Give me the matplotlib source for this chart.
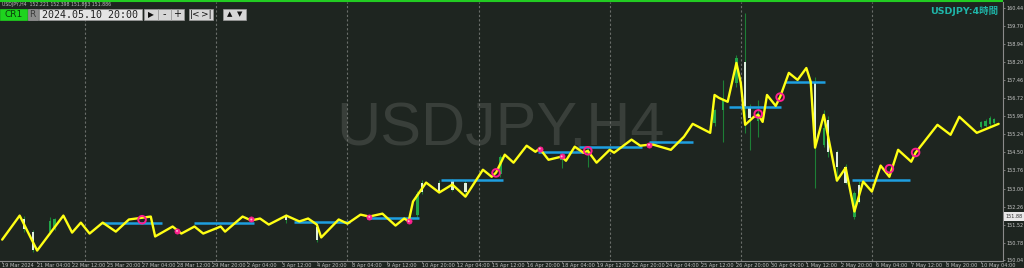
import matplotlib
matplotlib.use("Agg")
import matplotlib.pyplot as plt
from matplotlib.patches import Rectangle

# ---------------- data ----------------
# zigzag (yellow line) pivots: bar index (0 = 19 Mar 2024 20:00, H4 bars) and price
zigzag_bars = [0, 4, 8, 14, 16, 18, 20, 23, 26, 29, 34, 35, 39, 41, 44, 46, 50, 51, 55, 57,
               59, 61, 65, 68, 70, 72, 73, 77, 79, 82, 84, 87, 90, 92, 93, 94, 97, 100, 103, 106,
               110, 112, 113, 115, 117, 120, 122, 123, 125, 128, 129, 131, 133, 134, 136, 139, 140, 144, 146, 148,
               149, 153, 156, 158, 162, 163, 164, 166, 168, 169, 170, 172, 173, 174, 175, 177, 178, 180, 182, 184,
               185, 186, 188, 191, 193, 195, 197, 199, 201, 203, 205, 208, 209, 214, 217, 219, 223, 228]
zigzag_price = [150.90, 151.89, 150.45, 151.89, 151.19, 151.60, 151.15, 151.60, 151.23, 151.73,
                151.85, 151.03, 151.44, 151.15, 151.44, 151.15, 151.44, 151.23, 151.85, 151.69,
                151.77, 151.52, 151.89, 151.65, 151.77, 151.52, 150.99, 151.73, 151.56, 151.93,
                151.85, 151.97, 151.48, 151.77, 151.65, 152.47, 153.25, 152.84, 153.17, 152.67,
                153.78, 153.49, 153.66, 154.40, 154.07, 154.77, 154.52, 154.65, 154.19, 154.32,
                154.15, 154.73, 154.48, 154.56, 154.07, 154.60, 154.48, 155.02, 154.77, 154.81,
                154.81, 154.60, 155.14, 155.67, 155.30, 156.86, 156.74, 156.58, 158.18, 157.36,
                155.63, 155.96, 156.04, 155.75, 156.86, 156.41, 156.78, 157.77, 157.48, 157.97,
                157.40, 154.69, 156.04, 153.33, 153.86, 152.06, 153.29, 152.88, 153.95, 153.49,
                154.60, 154.11, 154.48, 155.63, 155.22, 155.96, 155.30, 155.67]

# horizontal levels (blue segments)
level_start = [22.9, 43.9, 66.8, 83.5, 100.5, 122.7, 132.0, 148.0, 166.4, 179.2, 194.5]
level_end = [36.6, 57.7, 79.6, 95.4, 114.6, 133.2, 146.5, 158.0, 178.3, 188.3, 207.8]
level_price = [151.59, 151.59, 151.62, 151.80, 153.34, 154.49, 154.72, 154.93, 156.38, 157.41, 153.37]

# signal markers
ring_bars = [32, 113, 134, 173, 178, 203, 209]
ring_price = [151.72, 153.65, 154.56, 156.08, 156.77, 153.82, 154.49]
dot_bars = [40, 57, 84, 93, 123, 128, 148]
dot_price = [151.26, 151.73, 151.84, 151.66, 154.65, 154.33, 154.81]

# candles (bar, open, high, low, close) for the visible ones
candle_bars = [5, 7, 11, 12, 65, 72, 95, 96, 100, 103, 106, 114, 128, 134,
               163, 165, 168, 170, 171, 173, 186, 188, 189, 191, 193, 195, 196, 224, 225, 226, 227]
candle_open = [151.73, 151.23, 151.23, 151.40, 151.89, 151.40, 151.90, 153.25, 153.25, 153.30, 153.25, 153.60, 154.20, 154.40,
               155.70, 156.25, 157.36, 158.22, 156.37, 155.80, 157.40, 154.80, 155.84, 154.52, 153.91, 151.85, 153.17,
               155.55, 155.60, 155.65, 155.70]
candle_high = [151.89, 151.30, 151.85, 151.80, 151.95, 151.50, 152.90, 153.35, 153.35, 153.40, 153.35, 154.40, 154.40, 154.70,
               156.30, 157.48, 158.50, 160.23, 156.50, 156.66, 157.60, 156.25, 156.00, 154.60, 154.00, 152.90, 153.30,
               155.80, 155.85, 156.00, 155.90]
candle_low = [151.20, 150.37, 151.15, 151.30, 151.60, 150.80, 151.80, 152.80, 152.85, 152.90, 152.80, 153.50, 153.86, 153.90,
              155.60, 154.93, 157.20, 155.30, 154.61, 155.14, 153.04, 154.73, 154.30, 153.30, 153.20, 151.77, 152.40,
              155.50, 155.55, 155.60, 155.65]
candle_close = [151.32, 150.49, 151.65, 151.73, 151.69, 150.90, 152.80, 152.88, 152.92, 152.95, 152.88, 154.30, 154.35, 154.55,
                156.25, 156.66, 158.38, 156.37, 155.92, 156.10, 154.73, 155.50, 154.52, 153.90, 153.25, 152.84, 152.47,
                155.75, 155.80, 155.90, 155.85]

week_separators = [19, 49, 79, 109, 139, 169, 199]

date_tick_bars = [0, 8, 16, 24, 32, 40, 48, 56, 64, 72, 80, 88, 96, 104, 112, 120, 128, 136,
                  144, 152, 160, 168, 176, 184, 192, 200, 208, 216, 224]
date_tick_labels = ["19 Mar 2024", "21 Mar 04:00", "22 Mar 12:00", "25 Mar 20:00", "27 Mar 04:00",
                    "28 Mar 12:00", "29 Mar 20:00", "2 Apr 04:00", "3 Apr 12:00", "4 Apr 20:00",
                    "8 Apr 04:00", "9 Apr 12:00", "10 Apr 20:00", "12 Apr 04:00", "15 Apr 12:00",
                    "16 Apr 20:00", "18 Apr 04:00", "19 Apr 12:00", "22 Apr 20:00", "24 Apr 04:00",
                    "25 Apr 12:00", "26 Apr 20:00", "30 Apr 04:00", "1 May 12:00", "2 May 20:00",
                    "6 May 04:00", "7 May 12:00", "8 May 20:00", "10 May 04:00"]

price_ticks = [160.44, 159.70, 158.94, 158.20, 157.46, 156.72, 155.98, 155.24, 154.50,
               153.76, 153.00, 152.26, 151.52, 150.78, 150.04]
current_price = 151.88

# ---------------- style ----------------
BG = "#1e2520"
W, H = 1024, 268
AX_TOP, AX_BOT = 2.0, 260.5          # pixel rows of the plot area
Y_TOP, Y_BOT = 160.69, 150.06
fig = plt.figure(figsize=(W / 100, H / 100), dpi=100)
fig.patch.set_facecolor(BG)

ax = fig.add_axes([0, (H - AX_BOT) / H, 1003 / W, (AX_BOT - AX_TOP) / H])
ax.set_facecolor(BG)
ax.set_xlim(-0.5, 229.0)
ax.set_ylim(Y_BOT, Y_TOP)

for s in ("top", "left"):
    ax.spines[s].set_visible(False)
for s in ("right", "bottom"):
    ax.spines[s].set_color("#8a8a8a")
    ax.spines[s].set_linewidth(0.8)

ax.yaxis.tick_right()
ax.set_yticks(price_ticks)
ax.set_yticklabels([f"{v:.2f}" for v in price_ticks])
ax.tick_params(axis="y", colors="#8a8a8a", labelcolor="#c8c8c8", labelsize=3.5,
               length=1.5, width=0.6, pad=0.8)
ax.set_xticks(date_tick_bars)
ax.set_xticklabels(date_tick_labels, ha="left")
ax.tick_params(axis="x", colors="#8a8a8a", labelcolor="#c0c0c0", labelsize=3.6,
               length=1.5, width=0.6, pad=0.4)

# watermark
ax.text(0.4985, 0.505, "USDJPY,H4", transform=ax.transAxes, ha="center", va="center",
        fontsize=44, color="#393f3a", family="Liberation Sans", zorder=0)

for b in week_separators:
    ax.axvline(b, color="#6a6e6a", lw=0.8, ls=(0, (2, 2)), zorder=1)

# candles
for b, o, h, l, c in zip(candle_bars, candle_open, candle_high, candle_low, candle_close):
    ax.vlines(b, l, h, color="#1d7f35", lw=0.8, zorder=2)
    col = "#21a548" if c >= o else "#dfeedf"
    ax.bar(b, abs(c - o), bottom=min(o, c), width=0.55, color=col, lw=0, zorder=2.5)

# levels
for s, e, p in zip(level_start, level_end, level_price):
    ax.plot([s, e], [p, p], color="#1e9fe0", lw=1.8, solid_capstyle="butt", zorder=3)

# zigzag line
ax.plot(zigzag_bars, zigzag_price, color="#ffff14", lw=1.7, solid_joinstyle="round",
        solid_capstyle="round", zorder=4)

# markers
ax.scatter(ring_bars, ring_price, s=30, facecolors="none", edgecolors="#ff1f8f", linewidths=1.4, zorder=5)
ax.scatter(dot_bars, dot_price, s=14, facecolors="#ff1f8f", edgecolors="#ff1f8f", linewidths=0.5, zorder=5)
ax.scatter(dot_bars, dot_price, s=2, facecolors="#ffb0d8", edgecolors="none", zorder=6)

# ---------------- overlay (toolbar, labels) ----------------
ov = fig.add_axes([0, 0, 1, 1], facecolor="none")
ov.set_xlim(0, W)
ov.set_ylim(H, 0)
ov.axis("off")

ov.plot([0, 1003], [0.8, 0.8], color="#22cc22", lw=1.5, solid_capstyle="butt")
ov.text(2, 4.2, "USDJPY,H4  152.221 152.398 151.863 151.886", fontsize=3.3, color="#bfbfbf",
        va="center", ha="left")

def box(x0, x1, y0, y1, fc, ec="#9a9a9a"):
    ov.add_patch(Rectangle((x0, y0), x1 - x0, y1 - y0, facecolor=fc, edgecolor=ec, lw=0.5))

box(0, 27, 9, 19.5, "#1ed41e", "#1ed41e")
ov.text(13.5, 14.3, "CR1", fontsize=6.5, color="#0b3d0b", ha="center", va="center")
box(27.5, 37.5, 9, 19.5, "#8c8c8c")
ov.text(32.5, 14.3, "R", fontsize=6.5, color="#3a3a3a", ha="center", va="center")
box(39, 142, 9, 19.5, "#e4e4e4")
ov.text(90.5, 14.5, "2024.05.10 20:00", fontsize=7.2, color="#202020", ha="center", va="center",
        family="DejaVu Sans Mono")
for x0, x1, lab in [(144, 157.5, "\u25b6"), (157.5, 171, "-"), (171, 184, "+")]:
    box(x0, x1, 9, 19.5, "#d6d6d6")
    ov.text((x0 + x1) / 2, 14.3, lab, fontsize=5.5 if lab == "\u25b6" else 7, color="#101010",
            ha="center", va="center")
box(189, 213, 9, 19.5, "#d6d6d6")
ov.text(195, 14.3, "|<", fontsize=6.5, color="#101010", ha="center", va="center")
ov.text(206.5, 14.3, ">|", fontsize=6.5, color="#101010", ha="center", va="center")
box(223, 246, 9, 19.5, "#d6d6d6")
ov.text(229.5, 14.3, "\u25b2", fontsize=5, color="#101010", ha="center", va="center")
ov.text(239.5, 14.3, "\u25bc", fontsize=5, color="#101010", ha="center", va="center")

ov.text(998, 11.5, "USDJPY:4時間", fontsize=6.8, color="#1fb5a8", ha="right", va="center",
        family=["DejaVu Sans", "Noto Sans CJK JP"], fontweight="bold")

# current price tag on right scale (overlay y runs downward in pixels)
yc = AX_TOP + (AX_BOT - AX_TOP) * (Y_TOP - current_price) / (Y_TOP - Y_BOT)
ov.add_patch(Rectangle((1004, yc - 4.5), 20, 9, facecolor="#e8e8e8", edgecolor="none", zorder=5))
ov.text(1005.5, yc, f"{current_price:.2f}", fontsize=3.5, color="#303030", ha="left", va="center", zorder=6)

fig.savefig("out.png", dpi=100, facecolor=BG)
